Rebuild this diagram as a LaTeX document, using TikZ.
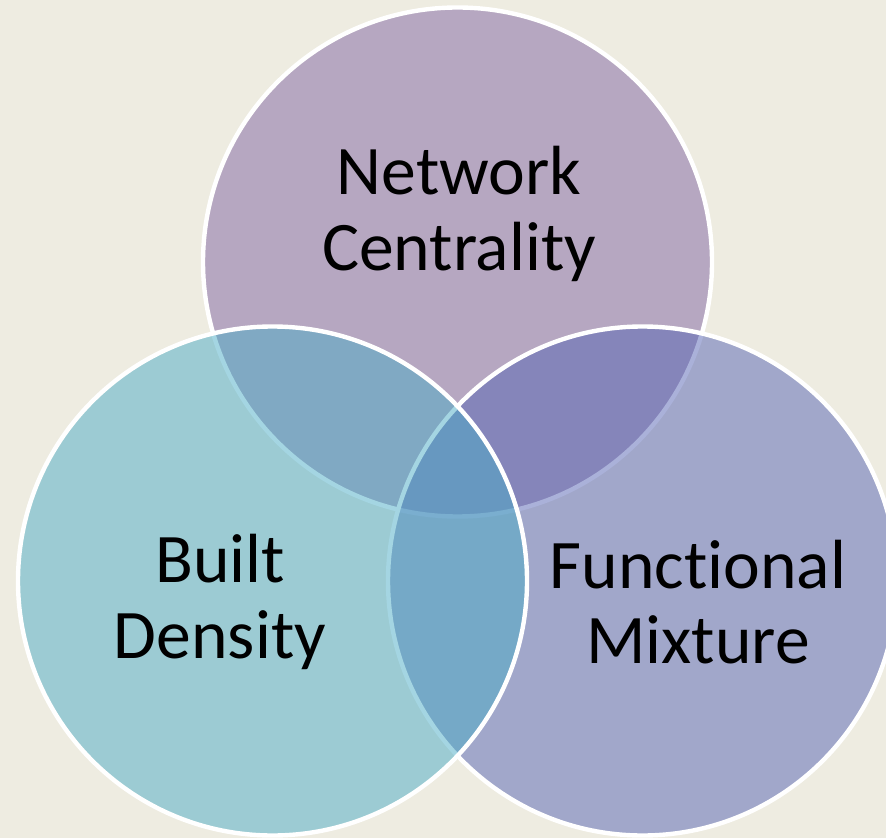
\documentclass[tikz,border=0pt]{standalone}
\usepackage{fontspec}
\setmainfont{Carlito}[Ligatures=NoCommon]
\usepackage{tikz}
\definecolor{paper}{HTML}{EEECE1}
\definecolor{plum}{HTML}{8064A2}
\definecolor{aqua}{HTML}{4BACC6}
\definecolor{slate}{HTML}{5664B5}
\tikzset{
  setcirc/.style={draw=white,line width=2.2pt,fill=#1,fill opacity=0.5},
  setlab/.style={align=center,text=black,inner sep=0pt,
    font=\fontsize{34.8}{37.8}\selectfont},
}

\begin{document}
\begin{tikzpicture}[x=0.5pt,y=-0.5pt]
  \fill[paper] (0,0) rectangle (886,838);
  \useasboundingbox (0,0) rectangle (886,838);
  \clip (0,0) rectangle (886,838);
  % three sets, drawn top, right, left
  \coordinate (ctop) at (457.5,262);
  \coordinate (cright) at (642.5,581);
  \coordinate (cleft) at (272.5,581);
  \draw[setcirc=plum] (ctop) circle[radius=254.5];
  \draw[setcirc=slate] (cright) circle[radius=254.5];
  \draw[setcirc=aqua] (cleft) circle[radius=254.5];
  % labels
  \node[setlab] (ltop) at (459,214) {Network\\Centrality};
  \node[setlab] (lleft) at (220,602) {Built\\Density};
  \node[setlab] (lright) at (698,602) {Functional\\Mixture};
\end{tikzpicture}
\end{document}
